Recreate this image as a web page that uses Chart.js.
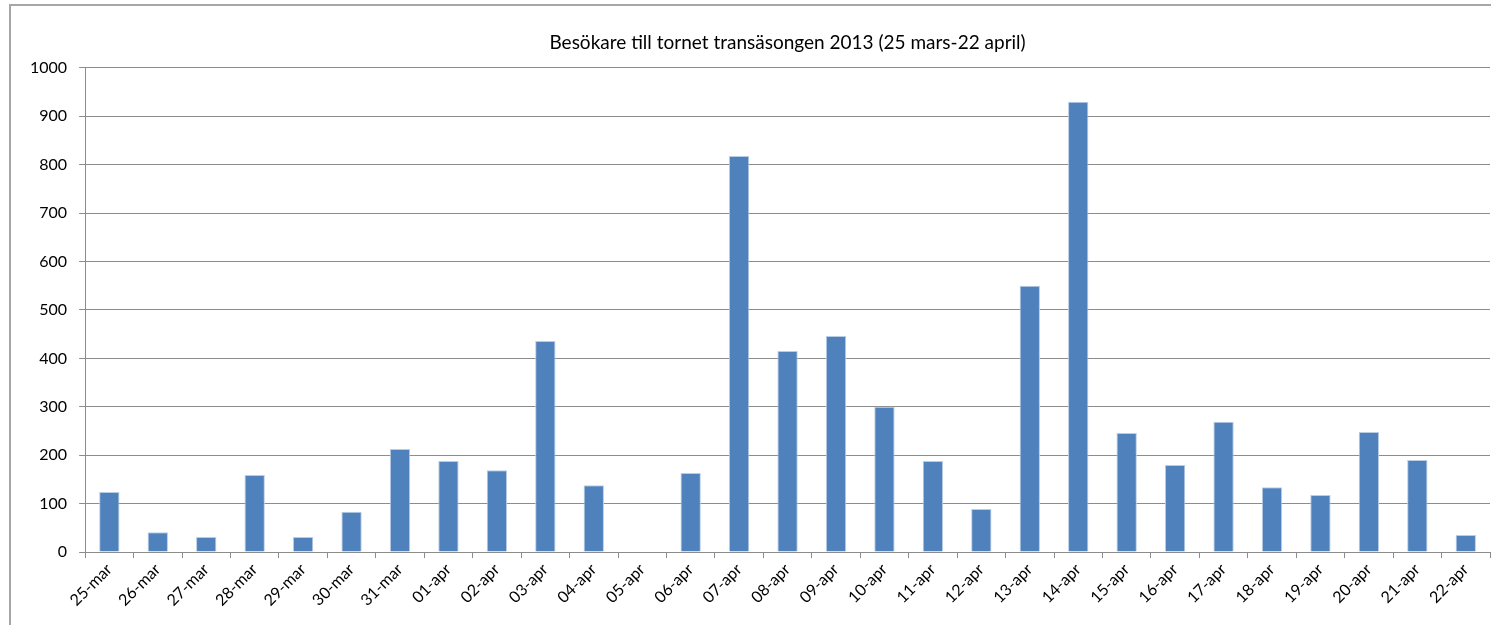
<!DOCTYPE html>
<html>
<head>
<meta charset="utf-8">
<style>
  html, body { margin: 0; padding: 0; background: #fff; overflow: hidden; }
  #frame { position: absolute; left: 9px; top: 4px; width: 1600px; height: 800px; border: 2px solid #a6a6a6; box-sizing: border-box; }
  #visitorChart { position: absolute; left: 0; top: 0; }
</style>
<script src="https://cdn.jsdelivr.net/npm/chart.js@4"></script>
</head>
<body>
<div id="frame"></div>
<canvas id="visitorChart" width="1491" height="625"></canvas>
<script>
const days = ['25-mar','26-mar','27-mar','28-mar','29-mar','30-mar','31-mar',
  '01-apr','02-apr','03-apr','04-apr','05-apr','06-apr','07-apr','08-apr','09-apr','10-apr',
  '11-apr','12-apr','13-apr','14-apr','15-apr','16-apr','17-apr','18-apr','19-apr','20-apr',
  '21-apr','22-apr'];
const visitors = [124, 41, 31, 159, 31, 83, 213,
  188, 169, 436, 138, 0, 163, 818, 415, 446, 300,
  188, 89, 550, 930, 246, 180, 269, 134, 118, 248,
  190, 35];
const yTicks = [0, 100, 200, 300, 400, 500, 600, 700, 800, 900, 1000];
const chartTitle = 'Besökare till tornet transäsongen 2013 (25 mars-22 april)';

const ctx = document.getElementById('visitorChart').getContext('2d');
const lineGray = '#8c8c8c';

const visitorChart = new Chart(ctx, {
    type: 'bar',
    data: {
        labels: days,
        datasets: [{
            label: 'Besökare',
            data: visitors,
            backgroundColor: '#4f81bd',
            borderColor: '#b9cde5',
            borderWidth: { left: 1, right: 1, top: 1, bottom: 0 },
            categoryPercentage: 1,
            barPercentage: 0.42
        }]
    },
    options: {
        responsive: false,
        animation: false,
        layout: {
            padding: { left: 18, right: 1, top: 0, bottom: 13 }
        },
        scales: {
            x: {
                offset: true,
                grid: {
                    offset: true,
                    drawOnChartArea: false,
                    drawTicks: true,
                    tickLength: 6,
                    color: lineGray
                },
                border: { color: lineGray, width: 1 },
                ticks: {
                    color: '#000',
                    font: { family: 'Lato', size: 16 },
                    maxRotation: 45,
                    minRotation: 45,
                    autoSkip: false,
                    padding: 2
                }
            },
            y: {
                min: 0,
                max: 1000,
                afterBuildTicks: axis => { axis.ticks = yTicks.map(v => ({ value: v })); },
                grid: {
                    color: lineGray,
                    tickLength: 6
                },
                border: { color: lineGray, width: 1 },
                ticks: {
                    color: '#000',
                    font: { family: 'Lato', size: 16 },
                    padding: 12,
                    callback: v => String(v)
                }
            }
        },
        plugins: {
            legend: { display: false },
            tooltip: { enabled: false },
            title: {
                display: true,
                fullSize: false,
                text: chartTitle,
                color: '#000',
                font: { family: 'Lato', size: 19, weight: 'normal' },
                padding: { top: 31, bottom: 14 }
            }
        }
    }
});
</script>
</body>
</html>
